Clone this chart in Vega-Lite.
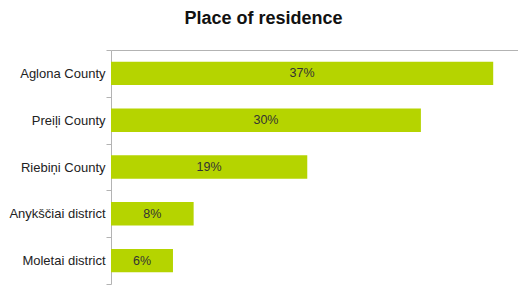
{
  "$schema": "https://vega.github.io/schema/vega-lite/v6.json",
  "width": 518,
  "height": 285,
  "autosize": {"type": "fit", "contains": "padding"},
  "padding": {"left": 8, "top": 10, "right": 0, "bottom": 0},
  "background": "white",
  "title": {
    "text": "Place of residence",
    "font": "Liberation Sans",
    "fontSize": 18,
    "fontWeight": "bold",
    "color": "#111111",
    "anchor": "middle",
    "frame": "bounds",
    "offset": 16
  },
  "data": {
    "values": [
      {"place": "Aglona County", "share": 37, "label": "37%"},
      {"place": "Preiļi County", "share": 30, "label": "30%"},
      {"place": "Riebiņi County", "share": 19, "label": "19%"},
      {"place": "Anykščiai district", "share": 8, "label": "8%"},
      {"place": "Moletai district", "share": 6, "label": "6%"}
    ]
  },
  "encoding": {
    "y": {
      "field": "place",
      "type": "nominal",
      "sort": null,
      "title": null,
      "scale": {"paddingInner": 0, "paddingOuter": 0},
      "axis": {
        "tickBand": "extent",
        "domainColor": "#b3b3b3",
        "tickColor": "#b3b3b3",
        "tickSize": 5,
        "labelPadding": 1,
        "labelFont": "Liberation Sans",
        "labelFontSize": 13,
        "labelColor": "#222222",
        "grid": false
      }
    }
  },
  "layer": [
    {
      "mark": {"type": "bar", "color": "#b5d400", "height": {"band": 0.5}},
      "encoding": {
        "x": {
          "field": "share",
          "type": "quantitative",
          "title": null,
          "scale": {"domain": [0, 39.4], "nice": false},
          "axis": {
            "orient": "top",
            "labels": false,
            "ticks": false,
            "grid": false,
            "domainColor": "#b3b3b3"
          }
        }
      }
    },
    {
      "mark": {"type": "text", "font": "Liberation Sans", "fontSize": 12.5, "color": "#333333", "align": "center", "baseline": "middle"},
      "encoding": {
        "x": {"field": "share", "type": "quantitative", "stack": "zero", "bandPosition": 0.5},
        "text": {"field": "label"}
      }
    }
  ],
  "config": {"view": {"stroke": null}}
}
